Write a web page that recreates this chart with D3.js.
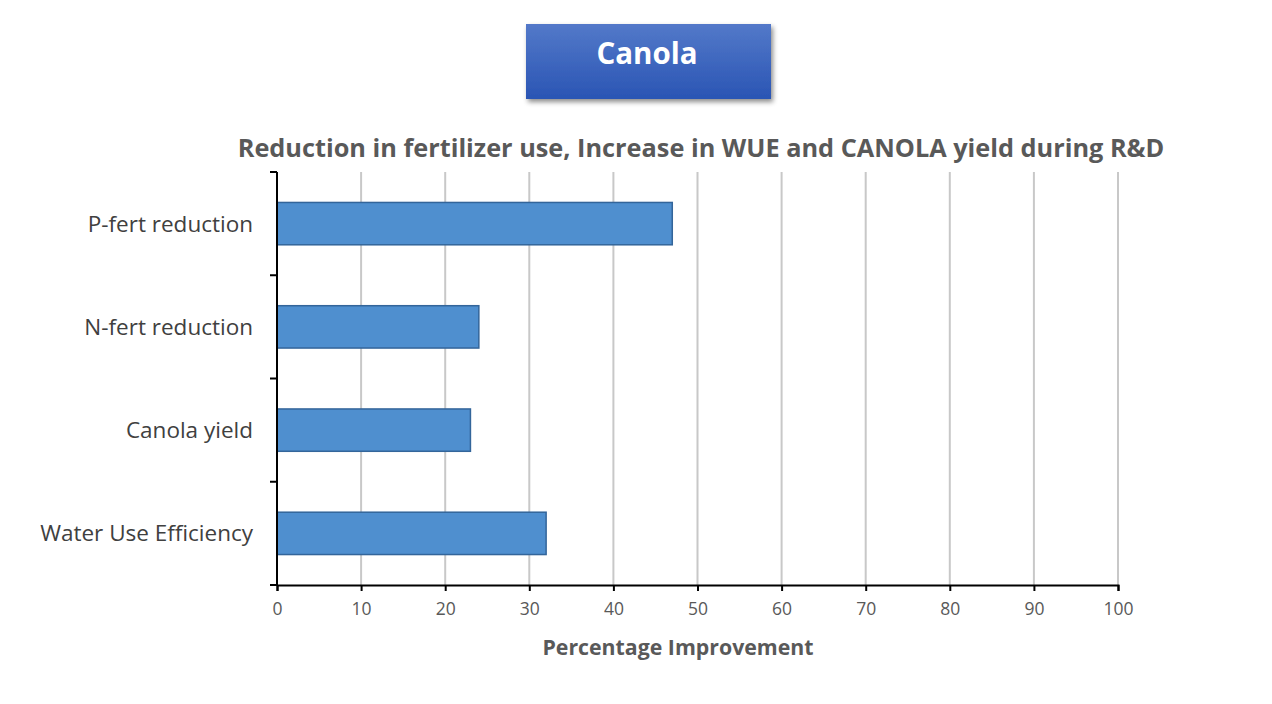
<!DOCTYPE html>
<html>
<head>
<meta charset="utf-8">
<script src="https://d3js.org/d3.v7.min.js"></script>
<style>
  body { margin: 0; background: #fff; }
  text { font-family: "Open Sans", sans-serif; }
</style>
</head>
<body>
<div id="chart"></div>
<script>
// data
var categories = ['P-fert reduction', 'N-fert reduction', 'Canola yield', 'Water Use Efficiency'];
var values = [47, 24, 23, 32];
var x_ticks = [0, 10, 20, 30, 40, 50, 60, 70, 80, 90, 100];

var width = 1272;
var height = 704;

var margin = ({
    top: 172,
    right: 154,
    bottom: 119,
    left: 277
});

var svg = d3.select('#chart')
    .append('svg')
    .attr('width', width)
    .attr('height', height);

var defs = svg.append('defs');

var grad = defs.append('linearGradient')
    .attr('id', 'header_grad')
    .attr('x1', 0).attr('y1', 0)
    .attr('x2', 0).attr('y2', 1);
grad.append('stop').attr('offset', '0%').attr('stop-color', '#5379c9');
grad.append('stop').attr('offset', '100%').attr('stop-color', '#2a55b4');

var shadow = defs.append('filter')
    .attr('id', 'header_shadow')
    .attr('x', '-10%').attr('y', '-20%')
    .attr('width', '120%').attr('height', '150%');
shadow.append('feDropShadow')
    .attr('dx', 2).attr('dy', 3)
    .attr('stdDeviation', 2.5)
    .attr('flood-color', '#000')
    .attr('flood-opacity', 0.45);

// header box
svg.append('rect')
    .attr('x', 526)
    .attr('y', 24)
    .attr('width', 245)
    .attr('height', 75)
    .attr('fill', 'url(#header_grad)')
    .attr('filter', 'url(#header_shadow)');

svg.append('text')
    .attr('x', 647)
    .attr('y', 64)
    .attr('text-anchor', 'middle')
    .attr('fill', '#fff')
    .style('font-size', '29.5px')
    .style('font-weight', 'bold')
    .text('Canola');

// chart title
svg.append('text')
    .attr('x', 701)
    .attr('y', 157)
    .attr('text-anchor', 'middle')
    .attr('fill', '#595959')
    .style('font-size', '25.3px')
    .style('font-weight', 'bold')
    .text('Reduction in fertilizer use, Increase in WUE and CANOLA yield during R&D');

var inner_w = width - margin.left - margin.right;
var inner_h = height - margin.top - margin.bottom;

var x = d3.scaleLinear()
    .domain([0, 100])
    .range([0, inner_w]);

var y = d3.scaleBand()
    .domain(categories)
    .range([0, inner_h])
    .paddingInner(0.59)
    .paddingOuter(0.295);

var g = svg.append('g')
    .attr('transform', `translate(${margin.left}, ${margin.top})`);

// vertical gridlines
g.append('g')
    .selectAll('line')
    .data(x_ticks.slice(1))
    .enter()
    .append('line')
    .attr('x1', function(d) { return x(d); })
    .attr('x2', function(d) { return x(d); })
    .attr('y1', 0)
    .attr('y2', inner_h)
    .attr('stroke', '#c8c8c8')
    .attr('stroke-width', 2);

// bars
g.append('g')
    .selectAll('rect')
    .data(values)
    .enter()
    .append('rect')
    .attr('x', x(0))
    .attr('y', function(d, i) { return y(categories[i]); })
    .attr('width', function(d) { return x(d) - x(0); })
    .attr('height', y.bandwidth())
    .attr('fill', '#4f8fcf')
    .attr('stroke', '#33659a')
    .attr('stroke-width', 1.5);

// x axis
var x_axis = g.append('g')
    .attr('transform', `translate(0, ${inner_h})`)
    .call(d3.axisBottom(x).tickValues(x_ticks).tickSize(6).tickPadding(12));
x_axis.select('.domain').attr('stroke', '#000').attr('stroke-width', 2);
x_axis.selectAll('.tick line').attr('stroke', '#000').attr('stroke-width', 2);
x_axis.selectAll('.tick text')
    .attr('fill', '#595959')
    .style('font-size', '17.5px')
    .style('font-family', '"Open Sans", sans-serif');

// y axis: ticks at band boundaries like the reference
var y_axis = g.append('g');
y_axis.append('line')
    .attr('x1', 0).attr('x2', 0)
    .attr('y1', 0).attr('y2', inner_h)
    .attr('stroke', '#000')
    .attr('stroke-width', 2);

var boundaries = d3.range(categories.length + 1).map(function(i) { return i * (inner_h / categories.length); });
y_axis.selectAll('line.tick')
    .data(boundaries)
    .enter()
    .append('line')
    .attr('class', 'tick')
    .attr('x1', -7).attr('x2', 0)
    .attr('y1', function(d) { return d; })
    .attr('y2', function(d) { return d; })
    .attr('stroke', '#000')
    .attr('stroke-width', 2);

y_axis.selectAll('text')
    .data(categories)
    .enter()
    .append('text')
    .attr('x', -24)
    .attr('y', function(d) { return y(d) + y.bandwidth() / 2; })
    .attr('dy', '0.35em')
    .attr('text-anchor', 'end')
    .attr('fill', '#404040')
    .style('font-size', '22.5px')
    .text(function(d) { return d; });

// x axis title
svg.append('text')
    .attr('x', 678)
    .attr('y', 655)
    .attr('text-anchor', 'middle')
    .attr('fill', '#595959')
    .style('font-size', '21.3px')
    .style('font-weight', 'bold')
    .text('Percentage Improvement');
</script>
</body>
</html>
